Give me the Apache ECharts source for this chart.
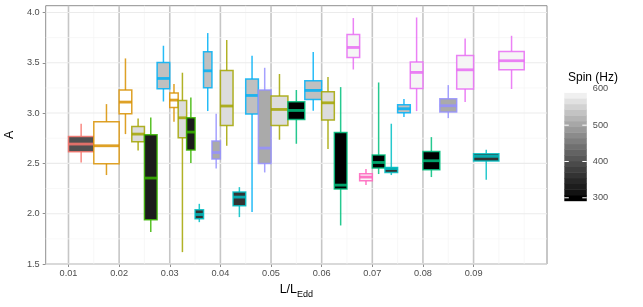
<!DOCTYPE html>
<html><head><meta charset="utf-8">
<script src="https://cdn.jsdelivr.net/npm/echarts@6/dist/echarts.min.js"></script>
<style>html,body{margin:0;padding:0;background:#fff}#c{width:643px;height:307px}</style>
</head><body><div id="c"></div>
<script>
// ---- data ----
const lumBin = [0.01,0.01, 0.02,0.02,0.02,0.02, 0.03,0.03,0.03,0.03,0.03,0.03, 0.04,0.04,0.04,0.04, 0.05,0.05,0.05, 0.06,0.06,0.06,0.06, 0.07,0.07,0.07,0.07, 0.08,0.08,0.08, 0.09,0.09];
const colourGroup = [0,1, 1,2,3,6, 1,2,3,5,6,7, 2,5,6,7, 2,4,6, 2,4,8,9, 4,5,6,8, 4,7,8, 5,8];
const whiskerLow    = [2.509,2.384, 2.791,2.628,1.817,3.115, 2.914,1.618,2.503,1.916,3.020,2.449, 2.675,1.966,2.016,2.410, 2.735,2.695,3.023, 2.642,1.883,3.433,2.284, 2.394,2.384,2.960,3.020, 2.364,2.950,3.109, 2.337,3.239];
const lowerQuartile = [2.615,2.496, 2.993,2.715,1.939,3.242, 3.056,2.754,2.632,1.949,3.251,2.543, 2.877,2.079,2.990,2.499, 2.877,2.936,3.135, 2.930,2.245,3.553,2.327, 2.453,2.410,3.003,3.245, 2.436,3.010,3.239, 2.523,3.430];
const median        = [2.692,2.675, 3.109,2.791,2.354,3.344, 3.129,2.953,2.811,1.992,3.420,2.608, 3.070,2.165,3.175,2.652, 3.036,3.026,3.225, 3.102,2.284,3.652,2.364, 2.509,2.448,3.043,3.404, 2.526,3.073,3.430, 2.570,3.520];
const upperQuartile = [2.767,2.913, 3.229,2.867,2.784,3.503, 3.199,3.125,2.953,2.039,3.609,2.722, 3.423,2.215,3.338,3.229, 3.169,3.112,3.321, 3.212,2.807,3.781,2.397, 2.583,2.459,3.083,3.507, 2.618,3.142,3.573, 2.595,3.612];
const whiskerHigh   = [2.894,3.089, 3.543,2.946,2.956,3.669, 3.288,3.401,3.155,2.098,3.795,2.993, 3.726,2.264,3.570,3.450, 3.388,3.229,3.606, 3.358,3.258,3.944,2.443, 3.304,2.894,3.139,3.950, 2.761,3.278,3.742, 2.635,3.768];
const groupSpin = [399,606,568,324,292,359,536,510,595,598];
const groupColour = ['#F8766D','#D89000','#A3A500','#39B600','#00BF7D','#00BFC4','#00B0F6','#9590FF','#E76BF3','#FF62BC'];
const xTickLabels = [0.01,0.02,0.03,0.04,0.05,0.06,0.07,0.08,0.09];
const xMinorLines = [0.015,0.025,0.035,0.045,0.055,0.065,0.075,0.085,0.095,0.1];
const yTickLabels = [1.5,2.0,2.5,3.0,3.5,4.0];
const yMinorLines = [1.75,2.25,2.75,3.25,3.75];
const spinTickLabels = [300,400,500,600];

// ---- helpers ----
const binWidth = 0.01;
const spinMin = Math.min(...groupSpin), spinMax = Math.max(...groupSpin);
function spinGray(s){
  const t = Math.max(0, Math.min(1, (s - spinMin) / (spinMax - spinMin)));
  const L = 100 * t;
  const Y = L > 8 ? Math.pow((L + 16) / 116, 3) : L / 903.3;
  const c = Y <= 0.0031308 ? 12.92 * Y : 1.055 * Math.pow(Y, 1 / 2.4) - 0.055;
  const v = Math.round(Math.max(0, Math.min(1, c)) * 255);
  return 'rgb(' + v + ',' + v + ',' + v + ')';
}
function rgba(hex, a){
  const n = parseInt(hex.slice(1), 16);
  return 'rgba(' + (n >> 16) + ',' + ((n >> 8) & 255) + ',' + (n & 255) + ',' + a + ')';
}
// dodge slots
const slot = [], nInBin = [];
lumBin.forEach((b, i) => {
  const same = lumBin.map((v, j) => v === b ? j : -1).filter(j => j >= 0);
  slot.push(same.indexOf(i)); nInBin.push(same.length);
});
const boxData = lumBin.map((b, i) => [b, whiskerLow[i], lowerQuartile[i], median[i], upperQuartile[i], whiskerHigh[i], i]);

const gridData = [];
xTickLabels.forEach(v => gridData.push([v, 0]));
xMinorLines.forEach(v => gridData.push([v, 1]));
yTickLabels.forEach(v => gridData.push([v, 2]));
yMinorLines.forEach(v => gridData.push([v, 3]));

const nbin = 20;
const barBins = [];
for (let k = 0; k < nbin; k++) barBins.push([k]);

const FONT = '"Liberation Sans", Arial, Helvetica, sans-serif';
const chart = echarts.init(document.getElementById('c'), null, {renderer: 'canvas'});
chart.setOption({
  animation: false,
  backgroundColor: '#ffffff',
  textStyle: {fontFamily: FONT},
  title: {text: 'Spin (Hz)', left: 563, top: 67, textStyle: {fontSize: 12, fontWeight: 'normal', color: '#000', fontFamily: FONT}},
  grid: [
    {left: 45.7, top: 5.7, width: 501.3, height: 258.3, show: true, borderColor: '#8f8f8f', borderWidth: 1, backgroundColor: '#fff', containLabel: false, outerBoundsMode: 'none'},
    {left: 564.3, top: 86.7, width: 22.5, height: 114, containLabel: false, outerBoundsMode: 'none'}
  ],
  xAxis: [
    {type: 'value', gridIndex: 0, min: 0.0055, max: 0.1045,
     axisLine: {show: false}, splitLine: {show: false},
     axisTick: {show: true, length: 3, lineStyle: {color: '#8f8f8f'}, customValues: xTickLabels},
     axisLabel: {customValues: xTickLabels, formatter: v => v.toFixed(2), color: '#4d4d4d', fontSize: 9.2, margin: 5, fontFamily: FONT},
     name: '{m|L/L}{s|Edd}', nameLocation: 'middle', nameGap: 18,
     nameTextStyle: {rich: {m: {fontSize: 12.5, color: '#000', fontFamily: FONT, verticalAlign: 'bottom', padding: [0,0,3,0]}, s: {fontSize: 9, color: '#000', fontFamily: FONT, verticalAlign: 'bottom'}}}},
    {type: 'value', gridIndex: 1, min: 0, max: 1, show: false}
  ],
  yAxis: [
    {type: 'value', gridIndex: 0, min: 1.5, max: 4.067,
     axisLine: {show: false}, splitLine: {show: false},
     axisTick: {show: true, length: 3, lineStyle: {color: '#8f8f8f'}, customValues: yTickLabels},
     axisLabel: {customValues: yTickLabels, formatter: v => v.toFixed(1), color: '#4d4d4d', fontSize: 9.2, margin: 6, fontFamily: FONT},
     name: 'A', nameLocation: 'middle', nameGap: 30, nameRotate: 90,
     nameTextStyle: {fontSize: 12.5, color: '#000', fontFamily: FONT}},
    {type: 'value', gridIndex: 1, min: spinMin, max: spinMax, position: 'right',
     axisLine: {show: false}, splitLine: {show: false}, axisTick: {show: false},
     axisLabel: {customValues: spinTickLabels, color: '#4d4d4d', fontSize: 9.2, margin: 6, fontFamily: FONT}}
  ],
  series: [
    {type: 'custom', name: 'grid', xAxisIndex: 0, yAxisIndex: 0, z: 1, silent: true,
     data: gridData, encode: {x: 0},
     renderItem: (params, api) => {
       const v = api.value(0), kind = api.value(1);
       const cs = params.coordSys;
       let shape, style;
       if (kind <= 1) {
         const x = api.coord([v, 2])[0];
         shape = {x1: x, y1: cs.y, x2: x, y2: cs.y + cs.height};
       } else {
         const y = api.coord([0.05, v])[1];
         shape = {x1: cs.x, y1: y, x2: cs.x + cs.width, y2: y};
       }
       if (kind === 0) style = {stroke: '#c6c6c6', lineWidth: 1.6};
       else if (kind === 1) style = {stroke: '#f4f4f4', lineWidth: 0.7};
       else if (kind === 2) style = {stroke: '#ebebeb', lineWidth: 1.1};
       else style = {stroke: '#f5f5f5', lineWidth: 0.7};
       return {type: 'line', shape: shape, style: style};
     }},
    {type: 'custom', name: 'boxes', xAxisIndex: 0, yAxisIndex: 0, z: 3,
     data: boxData, encode: {x: 0, y: [1, 2, 3, 4, 5]},
     renderItem: (params, api) => {
       const i = api.value(6);
       const n = nInBin[i], s = slot[i];
       const x0v = api.value(0) + s * binWidth / n, x1v = x0v + binWidth / n, xcv = (x0v + x1v) / 2;
       const pLow = api.coord([xcv, api.value(1)]);
       const pQ1 = api.coord([x0v, api.value(2)]);
       const pMed = api.coord([x0v, api.value(3)]);
       const pQ3 = api.coord([x1v, api.value(4)]);
       const pHigh = api.coord([xcv, api.value(5)]);
       const g = colourGroup[i];
       const col = rgba(groupColour[g], 0.85);
       const fill = spinGray(groupSpin[g]);
       return {type: 'group', children: [
         {type: 'line', shape: {x1: pLow[0], y1: pQ3[1], x2: pLow[0], y2: pHigh[1]}, style: {stroke: col, lineWidth: 1.5}},
         {type: 'line', shape: {x1: pLow[0], y1: pQ1[1], x2: pLow[0], y2: pLow[1]}, style: {stroke: col, lineWidth: 1.5}},
         {type: 'rect', shape: {x: pQ1[0], y: pQ3[1], width: pQ3[0] - pQ1[0], height: pQ1[1] - pQ3[1]}, style: {fill: fill, stroke: col, lineWidth: 1.5}},
         {type: 'line', shape: {x1: pQ1[0], y1: pMed[1], x2: pQ3[0], y2: pMed[1]}, style: {stroke: col, lineWidth: 2.8}}
       ]};
     }},
    {type: 'custom', name: 'colourbar', xAxisIndex: 1, yAxisIndex: 1, z: 2, silent: true,
     data: barBins, encode: {x: -1},
     renderItem: (params, api) => {
       const k = api.value(0);
       const step = (spinMax - spinMin) / nbin;
       const lo = spinMin + k * step, hi = lo + step;
       const val = spinMin + k * (spinMax - spinMin) / (nbin - 1);
       const a = api.coord([0, hi]), b = api.coord([1, lo]);
       return {type: 'rect', shape: {x: a[0], y: a[1], width: b[0] - a[0], height: b[1] - a[1] + 0.5}, style: {fill: spinGray(val)}};
     }},
    {type: 'custom', name: 'colourbarTicks', xAxisIndex: 1, yAxisIndex: 1, z: 4, silent: true,
     data: spinTickLabels.map(v => [v]), encode: {x: -1},
     renderItem: (params, api) => {
       const v = api.value(0);
       const l = api.coord([0, v]), r = api.coord([1, v]);
       const len = (r[0] - l[0]) / 5;
       return {type: 'group', children: [
         {type: 'line', shape: {x1: l[0], y1: l[1], x2: l[0] + len, y2: l[1]}, style: {stroke: '#ffffff', lineWidth: 1}},
         {type: 'line', shape: {x1: r[0] - len, y1: r[1], x2: r[0], y2: r[1]}, style: {stroke: '#ffffff', lineWidth: 1}}
       ]};
     }}
  ]
});
</script>
</body></html>
